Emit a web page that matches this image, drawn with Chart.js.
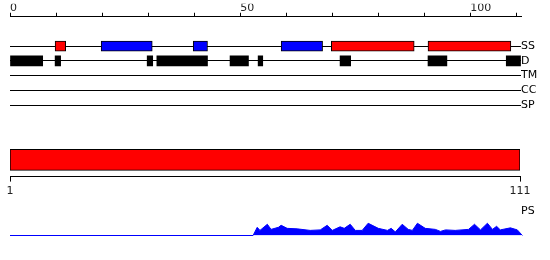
<!DOCTYPE html>
<html><head><meta charset="utf-8">
<script src="https://cdn.jsdelivr.net/npm/chart.js@4.4.1/dist/chart.umd.min.js"></script>
<style>
html,body{margin:0;padding:0;background:#fff;}
#wrap{position:relative;width:550px;height:260px;overflow:hidden;background:#fff;}
#wrap canvas{position:absolute;left:0;}
</style></head><body>
<div id="wrap">
<canvas id="cA" width="550" height="118" style="top:0px"></canvas>
<canvas id="cB" width="550" height="75" style="top:130px"></canvas>
<canvas id="cC" width="550" height="45" style="top:200px"></canvas>
</div>
<script>
// ---- data ----
const trackLabels = ['SS', 'D', 'TM', 'CC', 'SP'];
const topTickMarks = [0, 10, 20, 30, 40, 50, 60, 70, 80, 90, 100, 110];
const topTickLabels = [0, 50, 100];
// secondary structure segments (H = helix, E = strand)
const ssStart = [9.8, 19.8, 39.8, 58.9, 69.8, 90.8];
const ssEnd   = [12.1, 30.9, 42.9, 67.9, 87.8, 108.8];
const ssType  = ['H', 'E', 'E', 'E', 'H', 'H'];
// disorder segments
const dStart = [0, 9.8, 29.8, 31.9, 47.8, 53.9, 71.7, 90.8, 107.8];
const dEnd   = [7.1, 11.0, 31.0, 42.9, 51.8, 54.9, 74.0, 94.9, 110.9];
// domain bar
const domainStart = [1];
const domainEnd = [111];
const domainTicks = [1, 111];
// PS profile
const psPos = [0, 52.8, 53.7, 54.3, 55.9, 56.7, 58.3, 58.9, 60.2, 62.4,
               65.2, 67.4, 68.9, 70.0, 71.7, 72.6, 73.9, 75.0, 76.5, 77.8,
               80.0, 82.0, 82.8, 83.7, 85.2, 86.5, 87.4, 88.5, 90.2, 92.4,
               93.5, 94.6, 96.7, 99.6, 100.9, 102.2, 103.7, 104.8, 105.7, 106.5,
               108.7, 110.2, 111.3, 115.6];
const psVal = [0, 0, 8, 5, 11, 6, 8, 10, 7, 6.5,
               5, 5.5, 10, 5, 8.5, 7, 11, 5, 5, 12,
               7, 5, 7, 3.5, 11, 6, 5, 12, 7, 6,
               4, 5.5, 5, 6, 11, 5.5, 12, 6, 9, 5.5,
               7.5, 5.5, 0, 0];
const psLabel = 'PS';
const psMax = 24;

Chart.defaults.font.family = "'DejaVu Sans', sans-serif";
Chart.defaults.font.size = 11;
Chart.defaults.color = '#000';
Chart.defaults.animation = false;

const fixWidth = w => s => { s.width = w; };

// ---- Chart A: feature tracks ----
new Chart(document.getElementById('cA'), {
  type: 'bar',
  data: {
    labels: ['', ''].concat(trackLabels),
    datasets: [
      {
        data: ssStart.map((s, i) => ({x: [s, ssEnd[i]], y: 'SS'})),
        backgroundColor: ssType.map(t => t === 'H' ? '#ff0000' : '#0000ff'),
        borderColor: '#000', borderWidth: 1, borderSkipped: false,
        barThickness: 10, grouped: false
      },
      {
        data: dStart.map((s, i) => ({x: [s, dEnd[i]], y: 'D'})),
        backgroundColor: '#000', borderWidth: 0, borderSkipped: false,
        barThickness: 10, grouped: false
      }
    ]
  },
  options: {
    responsive: false, indexAxis: 'y',
    layout: {padding: {left: 10, right: 0, top: 3.75, bottom: 13}},
    plugins: {legend: {display: false}, tooltip: {enabled: false}},
    scales: {
      x: {
        type: 'linear', position: 'top', min: 0, max: 111,
        afterBuildTicks: s => { s.ticks = topTickMarks.map(v => ({value: v})); },
        ticks: {
          autoSkip: false, maxRotation: 0, align: 'start', padding: 1.75,
          color: '#222', font: {size: 11, lineHeight: 0.5},
          callback: v => topTickLabels.includes(v) ? String(v) : ''
        },
        grid: {drawOnChartArea: false, drawTicks: true, tickLength: 4, color: '#000', lineWidth: 1},
        border: {color: '#000', width: 1}
      },
      y: {
        type: 'category', position: 'right', offset: false,
        afterFit: fixWidth(29),
        ticks: {autoSkip: false, padding: 0, crossAlign: 'near', font: {size: 11}},
        grid: {
          offset: false, drawTicks: false, tickLength: 0, lineWidth: 1,
          color: ctx => (ctx.tick && ctx.tick.label) ? '#000' : 'rgba(0,0,0,0)'
        },
        border: {display: false}
      }
    }
  }
});

// ---- Chart B: domain bar ----
new Chart(document.getElementById('cB'), {
  type: 'bar',
  data: {
    labels: [''],
    datasets: [{
      data: domainStart.map((s, i) => [s, domainEnd[i]]),
      backgroundColor: '#ff0000', borderColor: '#000', borderWidth: 1,
      borderSkipped: false, barThickness: 21
    }]
  },
  options: {
    responsive: false, indexAxis: 'y',
    layout: {padding: {left: 10, right: 30, top: 13, bottom: 3.4}},
    plugins: {legend: {display: false}, tooltip: {enabled: false}},
    scales: {
      x: {
        type: 'linear', position: 'bottom', min: 1, max: 111,
        afterBuildTicks: s => { s.ticks = domainTicks.map(v => ({value: v})); },
        ticks: {autoSkip: false, maxRotation: 0, padding: 3.4, color: '#222', font: {size: 11}},
        grid: {drawOnChartArea: false, drawTicks: true, tickLength: 5, color: '#000'},
        border: {color: '#000', width: 1}
      },
      y: {display: false}
    }
  }
});

// ---- Chart C: PS profile ----
new Chart(document.getElementById('cC'), {
  type: 'line',
  data: {
    datasets: [{
      data: psPos.map((x, i) => ({x: x, y: psVal[i]})),
      borderColor: '#0000ff', backgroundColor: '#0000ff', borderWidth: 1,
      fill: 'origin', pointRadius: 0, tension: 0, clip: false
    }]
  },
  options: {
    responsive: false,
    layout: {padding: {left: 10, right: 0, top: 11, bottom: 9.5}},
    plugins: {legend: {display: false}, tooltip: {enabled: false}},
    scales: {
      x: {type: 'linear', min: 0, max: 111, display: false},
      y: {
        type: 'linear', position: 'right', min: 0, max: psMax,
        afterFit: fixWidth(29),
        afterBuildTicks: s => { s.ticks = [{value: psMax}]; },
        ticks: {padding: 0, crossAlign: 'near', font: {size: 11}, callback: () => psLabel},
        grid: {display: false, drawTicks: false, tickLength: 0},
        border: {display: false}
      }
    }
  }
});
</script>
</body></html>
